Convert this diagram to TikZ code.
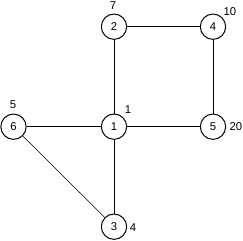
\documentclass[tikz,border=0pt]{standalone}
\usepackage{fontspec}
\setmainfont{Liberation Sans}
\tikzset{every picture/.style={line width=0.75pt}}
\tikzset{vertex/.style={draw,circle,minimum size=19pt,inner sep=0pt,font=\fontsize{8.5}{10}\selectfont},
  weight/.style={inner sep=0.75pt,font=\fontsize{8.5}{10}\selectfont}}

\begin{document}
\begin{tikzpicture}[x=0.75pt,y=0.75pt,yscale=-1,xscale=1]
\useasboundingbox (0,0) rectangle (243,240);

\node [vertex] (v2) at (114,26.7) {2};
\node [vertex] (v4) at (213,26.7) {4};
\node [vertex] (v6) at (13.5,126.7) {6};
\node [vertex] (v1) at (114,126.7) {1};
\node [vertex] (v5) at (213,126.7) {5};
\node [vertex] (v3) at (114,226.7) {3};

\draw (v2) -- (v4) ;
\draw (v2) -- (v1) ;
\draw (v4) -- (v5) ;
\draw (v6) -- (v1) ;
\draw (v1) -- (v5) ;
\draw (v1) -- (v3) ;
\draw [line width=0.4pt] (v6) -- (v3) ;

\node [weight] (w2) at (113,5.5) {7};
\node [weight] (w4) at (230,12) {10};
\node [weight] (w6) at (13,105) {5};
\node [weight] (w1) at (128,110) {1};
\node [weight] (w5) at (236,126.7) {20};
\node [weight] (w3) at (133,228) {4};
\end{tikzpicture}
\end{document}
